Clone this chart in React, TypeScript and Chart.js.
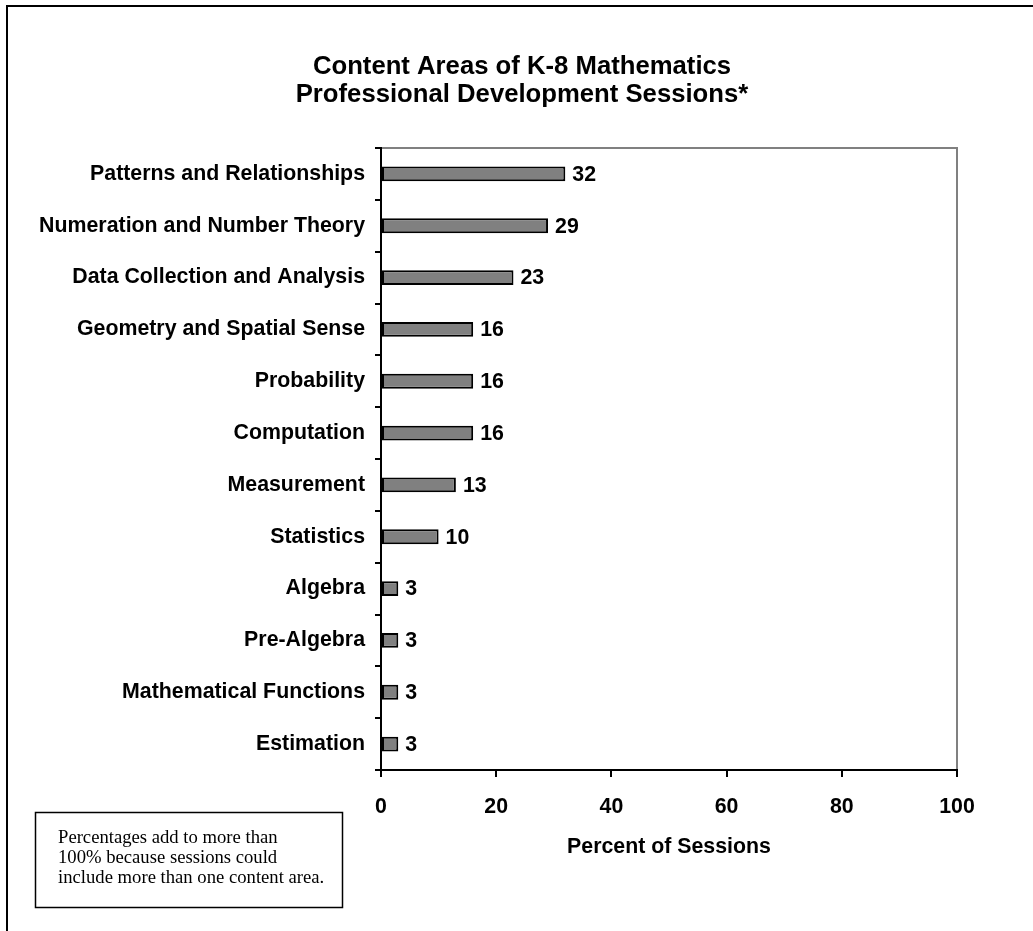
import React, { useEffect, useRef } from 'react';
import { Chart, registerables } from 'chart.js';

Chart.register(...registerables);

// Content areas, top to bottom
const categories: string[] = [
  'Patterns and Relationships',
  'Numeration and Number Theory',
  'Data Collection and Analysis',
  'Geometry and Spatial Sense',
  'Probability',
  'Computation',
  'Measurement',
  'Statistics',
  'Algebra',
  'Pre-Algebra',
  'Mathematical Functions',
  'Estimation',
];

// Percent of sessions covering each area
const percentValues: number[] = [32, 29, 23, 16, 16, 16, 13, 10, 3, 3, 3, 3];

// Horizontal axis ticks
const xTickValues: number[] = [0, 20, 40, 60, 80, 100];

const titleLines: string[] = [
  'Content Areas of K-8 Mathematics',
  'Professional Development Sessions*',
];
const xAxisTitle = 'Percent of Sessions';
const noteLines: string[] = [
  'Percentages add to more than',
  '100% because sessions could',
  'include more than one content area.',
];

const SANS = '"Liberation Sans", Arial, Helvetica, sans-serif';
const SERIF = '"Liberation Serif", "Times New Roman", Times, serif';
const LABEL_SIZE = 21.33;

const WIDTH = 1033;
const HEIGHT = 931;

// Outer frame (only its left and top edges fall inside the canvas)
const framePlugin = {
  id: 'outerFrame',
  beforeDraw(chart: any) {
    const { ctx } = chart;
    ctx.save();
    ctx.fillStyle = '#ffffff';
    ctx.fillRect(0, 0, chart.width, chart.height);
    ctx.strokeStyle = '#000000';
    ctx.lineWidth = 2;
    ctx.strokeRect(7, 6, chart.width + 100, chart.height + 100);
    ctx.restore();
  },
};

// Grey top and right edges of the plot area
const plotEdgePlugin = {
  id: 'plotEdges',
  beforeDatasetsDraw(chart: any) {
    const { ctx, chartArea } = chart;
    ctx.save();
    ctx.strokeStyle = '#808080';
    ctx.lineWidth = 2;
    ctx.beginPath();
    ctx.moveTo(chartArea.left + 1, chartArea.top);
    ctx.lineTo(chartArea.right, chartArea.top);
    ctx.lineTo(chartArea.right, chartArea.bottom - 1);
    ctx.stroke();
    ctx.restore();
  },
};

// Value printed at the end of each bar
const valueLabelPlugin = {
  id: 'valueLabels',
  afterDatasetsDraw(chart: any) {
    const { ctx } = chart;
    const meta = chart.getDatasetMeta(0);
    const data = chart.data.datasets[0].data as number[];
    ctx.save();
    ctx.fillStyle = '#000000';
    ctx.font = `bold ${LABEL_SIZE}px ${SANS}`;
    ctx.textAlign = 'left';
    ctx.textBaseline = 'middle';
    meta.data.forEach((bar: any, i: number) => {
      ctx.fillText(String(data[i]), bar.x + 7, bar.y + 1);
    });
    ctx.restore();
  },
};

// Two-line heading
const headingPlugin = {
  id: 'heading',
  afterDraw(chart: any) {
    const { ctx } = chart;
    ctx.save();
    ctx.fillStyle = '#000000';
    ctx.font = `bold 25.7px ${SANS}`;
    ctx.textAlign = 'center';
    ctx.textBaseline = 'middle';
    titleLines.forEach((line, i) => {
      ctx.fillText(line, 522, 67 + i * 28);
    });
    ctx.restore();
  },
};

// Boxed footnote in the lower left
const notePlugin = {
  id: 'noteBox',
  afterDraw(chart: any) {
    const { ctx } = chart;
    ctx.save();
    ctx.strokeStyle = '#000000';
    ctx.lineWidth = 1.5;
    ctx.strokeRect(35.5, 812.5, 307, 95);
    ctx.fillStyle = '#000000';
    ctx.font = `18.67px ${SERIF}`;
    ctx.textAlign = 'left';
    ctx.textBaseline = 'middle';
    noteLines.forEach((line, i) => {
      ctx.fillText(line, 58, 838 + i * 20);
    });
    ctx.restore();
  },
};

export default function App() {
  const canvasRef = useRef<HTMLCanvasElement | null>(null);

  useEffect(() => {
    if (!canvasRef.current) return;
    const chart = new Chart(canvasRef.current, {
      type: 'bar',
      data: {
        labels: categories,
        datasets: [
          {
            data: percentValues,
            backgroundColor: '#808080',
            borderColor: '#000000',
            borderWidth: 2,
            borderSkipped: false,
            categoryPercentage: 1,
            barPercentage: 0.285,
          },
        ],
      },
      options: {
        indexAxis: 'y',
        animation: false,
        responsive: false,
        devicePixelRatio: 1,
        layout: { padding: { top: 148, right: 76, bottom: 71, left: 0 } },
        plugins: {
          legend: { display: false },
          tooltip: { enabled: false },
          title: { display: false },
        },
        scales: {
          x: {
            type: 'linear',
            position: 'bottom',
            min: xTickValues[0],
            max: xTickValues[xTickValues.length - 1],
            afterBuildTicks: (scale: any) => {
              scale.ticks = xTickValues.map((v) => ({ value: v }));
            },
            afterFit: (scale: any) => {
              scale.height = 90;
            },
            grid: {
              drawOnChartArea: false,
              drawTicks: true,
              tickLength: 7,
              color: '#000000',
              lineWidth: 2,
            },
            border: { display: true, color: '#000000', width: 2 },
            ticks: {
              color: '#000000',
              padding: 17,
              maxRotation: 0,
              font: { family: SANS, size: LABEL_SIZE, weight: 'bold' },
            },
            title: {
              display: true,
              text: xAxisTitle,
              color: '#000000',
              padding: 0,
              font: { family: SANS, size: LABEL_SIZE, weight: 'bold' },
            },
          },
          y: {
            type: 'category',
            afterFit: (scale: any) => {
              scale.width = 381;
            },
            grid: {
              offset: true,
              drawOnChartArea: false,
              drawTicks: true,
              tickLength: 6,
              color: '#000000',
              lineWidth: 2,
            },
            border: { display: true, color: '#000000', width: 2 },
            ticks: {
              color: '#000000',
              padding: 10,
              autoSkip: false,
              font: { family: SANS, size: LABEL_SIZE, weight: 'bold' },
            },
          },
        },
      },
      plugins: [framePlugin, plotEdgePlugin, valueLabelPlugin, headingPlugin, notePlugin],
    } as any);
    return () => chart.destroy();
  }, []);

  return (
    <div style={{ position: 'absolute', left: 0, top: 0, width: WIDTH, height: HEIGHT }}>
      <canvas ref={canvasRef} width={WIDTH} height={HEIGHT} style={{ display: 'block' }} />
    </div>
  );
}
